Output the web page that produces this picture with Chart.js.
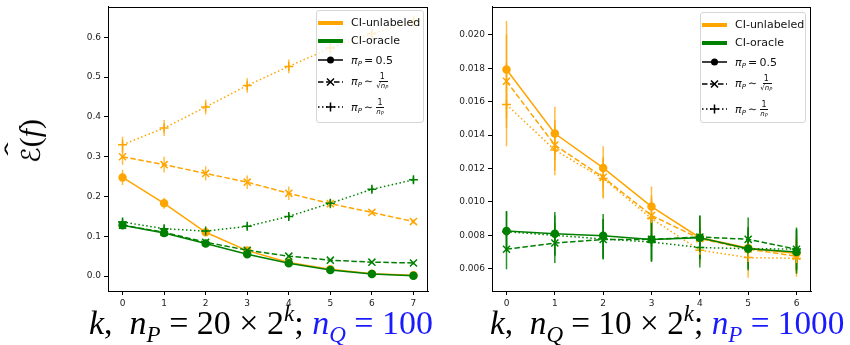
<!DOCTYPE html>
<html>
<head>
<meta charset="utf-8">
<script src="https://cdn.jsdelivr.net/npm/chart.js@4.4.1/dist/chart.umd.min.js"></script>
<style>
  body { margin: 0; width: 850px; height: 345px; position: relative; background: #fff; overflow: hidden; }
  canvas { position: absolute; top: 0; }
  .legend { position: absolute; box-sizing: border-box; background: rgba(255,255,255,0.8); border: 1px solid #d6d6d6; border-radius: 3px; font-family: 'DejaVu Sans', sans-serif; font-size: 11px; color: #111; }
  .row { position: absolute; left: 1px; height: 20px; display: flex; align-items: center; white-space: nowrap; }
  .row svg { width: 25px; height: 12px; margin-right: 8px; flex: none; }
  .row sub { font-size: 7px; line-height: 0; vertical-align: -2px; }
  .frac { display: inline-flex; flex-direction: column; align-items: center; font-size: 8px; line-height: 8px; margin-left: 3px; vertical-align: middle; }
  .frac .num { border-bottom: 1px solid #111; padding: 0 1px; }
  .frac .den { font-size: 7px; }
  .frac .den sub { font-size: 5px; vertical-align: -1px; }
  .ov { border-top: 1px solid #111; }
  .xlabel { position: absolute; top: 306px; font-family: 'Liberation Serif', serif; font-size: 34px; line-height: 33px; white-space: nowrap; color: #000; }
  .xlabel sub, .xlabel sup { font-size: 23px; line-height: 0; }
  .xlabel sub { vertical-align: -8px; }
  .xlabel sup { vertical-align: 13px; }
  .blue { color: #1a1aff; }
  .ylabel { position: absolute; left: 30px; top: 141px; transform: translate(-50%, -50%) rotate(-90deg); font-family: 'Liberation Serif', serif; font-size: 30px; white-space: nowrap; }
  .hat { position: relative; display: inline-block; font-family: 'DejaVu Sans', sans-serif; font-size: 26px; }
  .hat span { position: absolute; left: 3px; top: -15px; transform: scaleX(2.2); transform-origin: left; font-size: 20px; }
</style>
</head>
<body>
<canvas id="leftChart" width="440" height="345" style="left:0"></canvas>
<canvas id="rightChart" width="410" height="345" style="left:440px"></canvas>

<div class="ylabel"><span class="hat">ℰ<span>ˆ</span></span>(<i>f</i>)</div>

<div class="xlabel" style="left:89px"><i>k</i>,&nbsp; <i>n</i><sub><i>P</i></sub> = 20 × 2<sup><i>k</i></sup>; <span class="blue"><i>n</i><sub><i>Q</i></sub> = 100</span></div>
<div class="xlabel" style="left:490px; font-size:33.3px"><i>k</i>,&nbsp; <i>n</i><sub><i>Q</i></sub> = 10 × 2<sup><i>k</i></sup>; <span class="blue"><i>n</i><sub><i>P</i></sub> = 1000</span></div>

<div class="legend" id="leftLegend" style="left:316px; top:10px; width:108px; height:113px"></div>
<div class="legend" id="rightLegend" style="left:700px; top:12px; width:106px; height:111px"></div>

<script>
// x values (k)
const kLeft = [0, 1, 2, 3, 4, 5, 6, 7];
const kRight = [0, 1, 2, 3, 4, 5, 6];
const leftYTicks = [0.0, 0.1, 0.2, 0.3, 0.4, 0.5, 0.6];
const rightYTicks = [0.006, 0.008, 0.010, 0.012, 0.014, 0.016, 0.018, 0.020];

// left panel: n_P = 20 x 2^k, n_Q = 100
const leftUnlabHalf = [0.248, 0.183, 0.110, 0.064, 0.034, 0.017, 0.006, 0.002];
const leftUnlabHalfErr = [0.019, 0.014, 0.006, 0.004, 0.003, 0.002, 0.002, 0.002];
const leftUnlabSqrt = [0.300, 0.280, 0.258, 0.236, 0.208, 0.182, 0.160, 0.137];
const leftUnlabSqrtErr = [0.020, 0.020, 0.018, 0.017, 0.017, 0.012, 0.005, 0.005];
const leftUnlabInv = [0.330, 0.372, 0.425, 0.479, 0.527, 0.573, 0.609, 0.640];
const leftUnlabInvErr = [0.020, 0.020, 0.018, 0.018, 0.017, 0.015, 0.015, 0.015];
const leftOracleHalf = [0.128, 0.108, 0.082, 0.055, 0.032, 0.015, 0.005, 0.001];
const leftOracleHalfErr = [0.008, 0.005, 0.004, 0.004, 0.003, 0.002, 0.002, 0.002];
const leftOracleSqrt = [0.128, 0.110, 0.085, 0.065, 0.050, 0.040, 0.035, 0.033];
const leftOracleSqrtErr = [0.008, 0.005, 0.004, 0.004, 0.003, 0.003, 0.003, 0.003];
const leftOracleInv = [0.136, 0.119, 0.113, 0.125, 0.150, 0.183, 0.218, 0.242];
const leftOracleInvErr = [0.008, 0.008, 0.007, 0.007, 0.008, 0.008, 0.008, 0.008];

// right panel: n_Q = 10 x 2^k, n_P = 1000
const rightUnlabHalf = [0.01792, 0.01409, 0.01203, 0.00972, 0.00786, 0.00724, 0.00691];
const rightUnlabHalfErr = [0.0029, 0.0016, 0.0013, 0.0012, 0.0012, 0.0010, 0.0010];
const rightUnlabSqrt = [0.01722, 0.01340, 0.01147, 0.00919, 0.00780, 0.00718, 0.00675];
const rightUnlabSqrtErr = [0.0028, 0.0015, 0.0012, 0.0012, 0.0010, 0.0010, 0.0010];
const rightUnlabInv = [0.01583, 0.01310, 0.01140, 0.00900, 0.00711, 0.00667, 0.00662];
const rightUnlabInvErr = [0.0025, 0.0015, 0.0012, 0.0012, 0.0008, 0.0012, 0.0011];
const rightOracleHalf = [0.00826, 0.00810, 0.00798, 0.00775, 0.00786, 0.00720, 0.00700];
const rightOracleHalfErr = [0.0012, 0.0013, 0.0013, 0.0012, 0.0013, 0.0013, 0.0013];
const rightOracleSqrt = [0.00717, 0.00754, 0.00775, 0.00776, 0.00790, 0.00776, 0.00717];
const rightOracleSqrtErr = [0.0012, 0.0012, 0.0012, 0.0013, 0.0013, 0.0013, 0.0013];
const rightOracleInv = [0.00822, 0.00800, 0.00778, 0.00760, 0.00727, 0.00720, 0.00718];
const rightOracleInvErr = [0.0012, 0.0012, 0.0012, 0.0012, 0.0012, 0.0012, 0.0012];

const ORANGE = '#ffa500';
const GREEN = '#008000';

const styles = {
    half: { dash: [], point: 'circle', radius: 3.5 },
    sqrt: { dash: [5.5, 2.5], point: 'crossRot', radius: 5 },
    inv: { dash: [1.5, 2.5], point: 'cross', radius: 4.5 }
};

Chart.defaults.font.family = "'DejaVu Sans', sans-serif";
Chart.defaults.font.size = 9;
Chart.defaults.color = '#222';

function makeDataset(ks, values, errors, color, errColor, style, order) {
    const s = styles[style];
    return {
        data: ks.map((k, i) => ({ x: k, y: values[i] })),
        errors: errors,
        errColor: errColor,
        borderColor: color,
        backgroundColor: color,
        borderWidth: 1.5,
        borderDash: s.dash,
        pointStyle: s.point,
        pointRadius: s.radius,
        pointBorderWidth: 1.5,
        pointBackgroundColor: color,
        tension: 0,
        order: order
    };
}

// vertical error bars, drawn through the y scale
const errorBars = {
    id: 'errorBars',
    beforeDatasetsDraw(chart) {
        const ctx = chart.ctx, area = chart.chartArea, yScale = chart.scales.y;
        ctx.save();
        ctx.beginPath();
        ctx.rect(area.left, area.top, area.right - area.left, area.bottom - area.top);
        ctx.clip();
        ctx.lineWidth = 1.5;
        chart.data.datasets.forEach((ds, di) => {
            const meta = chart.getDatasetMeta(di);
            ctx.strokeStyle = ds.errColor;
            meta.data.forEach((pt, i) => {
                const v = ds.data[i].y, e = ds.errors[i];
                ctx.beginPath();
                ctx.moveTo(pt.x, yScale.getPixelForValue(v - e));
                ctx.lineTo(pt.x, yScale.getPixelForValue(v + e));
                ctx.stroke();
            });
        });
        ctx.restore();
    }
};

// top + right spines
const frame = {
    id: 'frame',
    afterDraw(chart) {
        const ctx = chart.ctx, a = chart.chartArea;
        ctx.save();
        ctx.strokeStyle = '#000';
        ctx.lineWidth = 1;
        ctx.strokeRect(Math.round(a.left) + 0.5, Math.round(a.top) + 0.5,
            Math.round(a.right - a.left) - 1, Math.round(a.bottom - a.top) - 1);
        ctx.restore();
    }
};

function buildChart(canvasId, ks, yMin, yMax, yTicks, yDigits, axisWidth, padRight, sets) {
    const datasets = [
        makeDataset(ks, sets[0], sets[1], ORANGE, 'rgba(255,165,0,0.75)', 'half', 2),
        makeDataset(ks, sets[2], sets[3], ORANGE, 'rgba(255,165,0,0.75)', 'sqrt', 2),
        makeDataset(ks, sets[4], sets[5], ORANGE, 'rgba(255,165,0,0.75)', 'inv', 2),
        makeDataset(ks, sets[6], sets[7], GREEN, 'rgba(0,128,0,0.85)', 'half', 1),
        makeDataset(ks, sets[8], sets[9], GREEN, 'rgba(0,128,0,0.85)', 'sqrt', 1),
        makeDataset(ks, sets[10], sets[11], GREEN, 'rgba(0,128,0,0.85)', 'inv', 1)
    ];
    const last = ks[ks.length - 1];
    new Chart(document.getElementById(canvasId), {
        type: 'line',
        data: { datasets: datasets },
        plugins: [errorBars, frame],
        options: {
            responsive: false,
            animation: false,
            layout: { padding: { top: 5, right: padRight, left: 0, bottom: 0 } },
            plugins: { legend: { display: false }, tooltip: { enabled: false } },
            scales: {
                x: {
                    type: 'linear',
                    min: -0.05 * last,
                    max: last * 1.05,
                    afterBuildTicks: s => { s.ticks = ks.map(v => ({ value: v })); },
                    afterFit: s => { s.height = 54; s.paddingLeft = 0; s.paddingRight = 0; },
                    ticks: { padding: 3, callback: v => v },
                    grid: { display: true, drawOnChartArea: false, tickLength: 4, color: '#000' },
                    border: { display: true, color: '#000', width: 1 }
                },
                y: {
                    min: yMin,
                    max: yMax,
                    afterBuildTicks: s => { s.ticks = yTicks.map(v => ({ value: v })); },
                    afterFit: s => { s.width = axisWidth; s.paddingTop = 0; s.paddingBottom = 0; },
                    ticks: { padding: 3, callback: v => v.toFixed(yDigits) },
                    grid: { display: true, drawOnChartArea: false, tickLength: 4, color: '#000' },
                    border: { display: true, color: '#000', width: 1 }
                }
            }
        }
    });
}

function legendHtml() {
    const handle = (color, width, dash, marker) => {
        let m = '';
        if (marker === 'circle') m = '<circle cx="12.5" cy="6" r="3.5" fill="#000"/>';
        if (marker === 'x') m = '<path d="M9 2.5 L16 9.5 M16 2.5 L9 9.5" stroke="#000" stroke-width="1.5"/>';
        if (marker === 'plus') m = '<path d="M12.5 1.5 V10.5 M8 6 H17" stroke="#000" stroke-width="1.5"/>';
        return `<svg viewBox="0 0 25 12"><line x1="0" y1="6" x2="25" y2="6" stroke="${color}" stroke-width="${width}" stroke-dasharray="${dash}"/>${m}</svg>`;
    };
    const rows = [
        { c: 12.7, h: handle(ORANGE, 4, 'none', ''), t: 'CI-unlabeled' },
        { c: 30.7, h: handle(GREEN, 4, 'none', ''), t: 'CI-oracle' },
        { c: 50, h: handle('#000', 1.5, 'none', 'circle'), t: '<i>π</i><sub><i>P</i></sub>&thinsp;=&thinsp;0.5' },
        { c: 71.7, h: handle('#000', 1.5, '5.5 2.5', 'x'), t: '<i>π</i><sub><i>P</i></sub>&thinsp;∼<span class="frac"><span class="num">1</span><span class="den">√<span class="ov"><i>n</i><sub><i>P</i></sub></span></span></span>' },
        { c: 97.3, h: handle('#000', 1.5, '1.5 2.5', 'plus'), t: '<i>π</i><sub><i>P</i></sub>&thinsp;∼<span class="frac"><span class="num">1</span><span class="den"><i>n</i><sub><i>P</i></sub></span></span>' }
    ];
    return rows.map(r => `<div class="row" style="top:${r.c - 11}px">${r.h}<span>${r.t}</span></div>`).join('');
}

document.addEventListener('DOMContentLoaded', function() {
    buildChart('leftChart', kLeft, -0.0375, 0.6775, leftYTicks, 1, 108, 12, [
        leftUnlabHalf, leftUnlabHalfErr, leftUnlabSqrt, leftUnlabSqrtErr, leftUnlabInv, leftUnlabInvErr,
        leftOracleHalf, leftOracleHalfErr, leftOracleSqrt, leftOracleSqrtErr, leftOracleInv, leftOracleInvErr
    ]);
    buildChart('rightChart', kRight, 0.00467, 0.02169, rightYTicks, 3, 52, 39, [
        rightUnlabHalf, rightUnlabHalfErr, rightUnlabSqrt, rightUnlabSqrtErr, rightUnlabInv, rightUnlabInvErr,
        rightOracleHalf, rightOracleHalfErr, rightOracleSqrt, rightOracleSqrtErr, rightOracleInv, rightOracleInvErr
    ]);
    document.getElementById('leftLegend').innerHTML = legendHtml();
    document.getElementById('rightLegend').innerHTML = legendHtml();
});
</script>
</body>
</html>
